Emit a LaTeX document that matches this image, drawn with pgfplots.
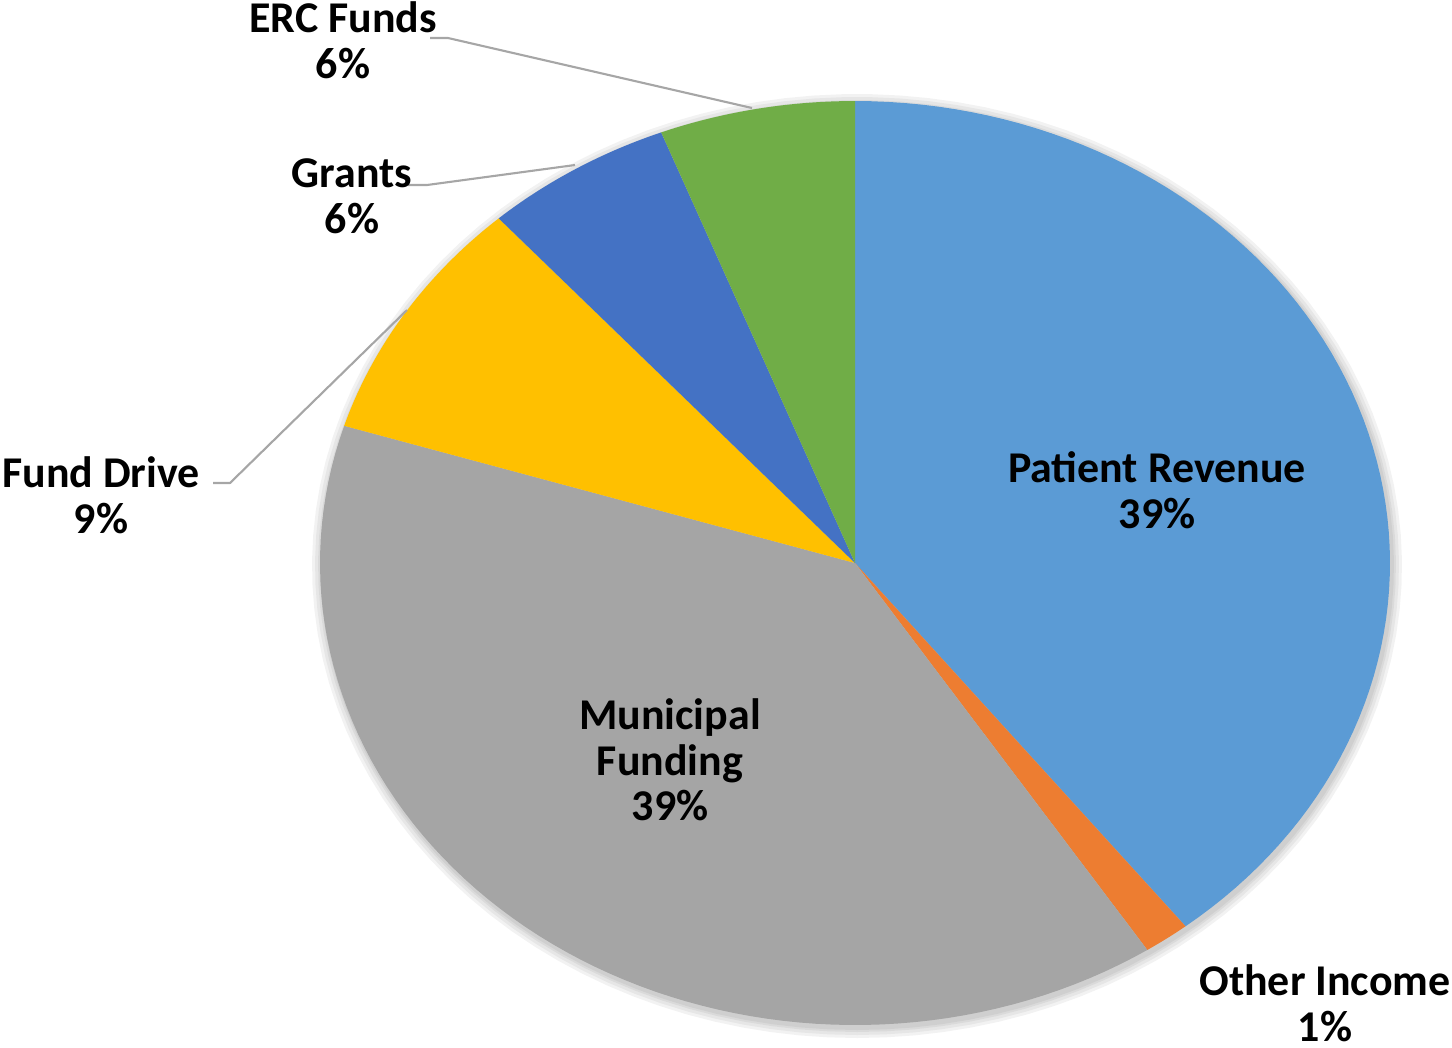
\documentclass[border=0pt]{standalone}
\usepackage{fontspec}
\setmainfont{Carlito}
\usepackage{pgfplots}
\pgfplotsset{compat=1.18}
\definecolor{cPat}{HTML}{5B9BD5}
\definecolor{cOth}{HTML}{ED7D31}
\definecolor{cMun}{HTML}{A5A5A5}
\definecolor{cFun}{HTML}{FFC000}
\definecolor{cGra}{HTML}{4472C4}
\definecolor{cERC}{HTML}{70AD47}
\definecolor{cLead}{HTML}{A6A6A6}
% shares in percent, clockwise from 12 o'clock:
% Patient Revenue 39.4, Other Income 1.4, Municipal Funding 39.0,
% Fund Drive 8.6, Grants 5.7, ERC Funds 5.9  (cumulative bounds below)
\begin{document}
\begin{tikzpicture}
\begin{axis}[
  scale only axis, width=14.52cm, height=10.47cm,
  xmin=0, xmax=1452, ymin=0, ymax=1047, y dir=reverse,
  hide axis, clip=false,
  every axis plot/.append style={line join=round},
]
\path (axis cs:0,0) rectangle (axis cs:1452,1047);
% soft shadow
\pgfplotsinvokeforeach{10,7,4,2}{
  \addplot[draw=none, fill=black, fill opacity=0.05, domain=0:360, samples=120]
    ({857+(535+#1)*sin(x)},{566+(462+#1)*cos(x)}) -- cycle;
}
\addplot[draw=none, fill=cPat, domain=0:39.4, samples=80]
  ({855+535*sin(3.6*x)},{563-462*cos(3.6*x)}) -- (axis cs:855,563) -- cycle;
\addplot[draw=none, fill=cOth, domain=39.4:40.8, samples=10]
  ({855+535*sin(3.6*x)},{563-462*cos(3.6*x)}) -- (axis cs:855,563) -- cycle;
\addplot[draw=none, fill=cMun, domain=40.8:79.8, samples=80]
  ({855+535*sin(3.6*x)},{563-462*cos(3.6*x)}) -- (axis cs:855,563) -- cycle;
\addplot[draw=none, fill=cFun, domain=79.8:88.4, samples=30]
  ({855+535*sin(3.6*x)},{563-462*cos(3.6*x)}) -- (axis cs:855,563) -- cycle;
\addplot[draw=none, fill=cGra, domain=88.4:94.1, samples=30]
  ({855+535*sin(3.6*x)},{563-462*cos(3.6*x)}) -- (axis cs:855,563) -- cycle;
\addplot[draw=none, fill=cERC, domain=94.1:100, samples=30]
  ({855+535*sin(3.6*x)},{563-462*cos(3.6*x)}) -- (axis cs:855,563) -- cycle;
% leader lines
\addplot[cLead, line width=0.6pt] coordinates {(430,38) (448,38) (752,108)};
\addplot[cLead, line width=0.6pt] coordinates {(408,185) (427,185) (575,165)};
\addplot[cLead, line width=0.6pt] coordinates {(213,483) (230,483) (407,310)};
% labels
\tikzset{lab/.style={font=\fontsize{12.5}{13}\selectfont\bfseries, align=center, anchor=center, inner sep=0pt}}
\node[lab] at (axis cs:343,40) {ERC Funds\\6\%};
\node[lab] at (axis cs:352,196) {Grants\\6\%};
\node[lab] at (axis cs:101,495) {Fund Drive\\9\%};
\node[lab] at (axis cs:1325,1003) {Other Income\\1\%};
\node[lab] at (axis cs:1157,490) {Patient Revenue\\39\%};
\node[lab] at (axis cs:670,760) {Municipal\\Funding\\39\%};
\end{axis}
\end{tikzpicture}
\end{document}
